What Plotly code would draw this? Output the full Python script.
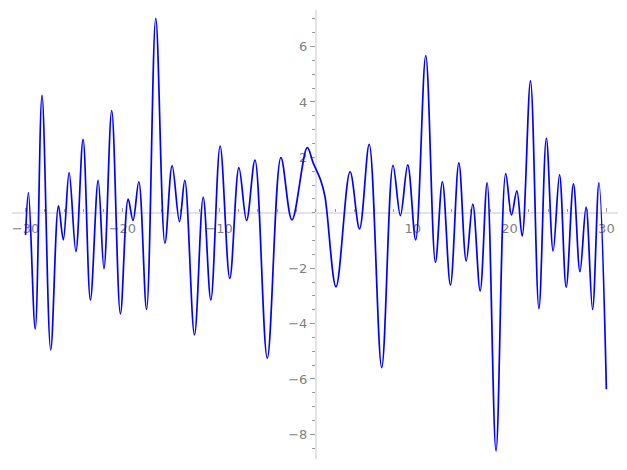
import plotly.graph_objects as go

# Curve samples (x, y of extrema and a few shoulder points)
x_vals = [-30.0, -29.7, -29.0, -28.3, -27.4, -26.6, -26.1, -25.5, -24.8, -24.06,
          -23.3, -22.5, -21.9, -21.1, -20.2, -19.4, -18.9, -18.3, -17.5, -16.55,
          -15.6, -14.86, -14.1, -13.55, -12.55, -11.65, -10.86, -9.9, -8.9, -7.96,
          -7.17, -6.3, -5.03, -3.62, -2.48, -0.9, -0.28, 0.48, 0.93, 2.07,
          3.52, 4.5, 5.5, 6.79, 7.96, 8.72, 9.48, 10.3, 11.34, 12.34,
          13.06, 13.89, 14.76, 15.52, 16.2, 16.96, 17.68, 18.6, 19.6, 20.2,
          20.75, 21.3, 22.16, 23.03, 23.8, 24.5, 25.16, 25.85, 26.6, 27.27,
          27.9, 28.57, 29.23, 30.0]
y_vals = [-0.8, 0.73, -4.2, 4.24, -4.95, 0.25, -0.98, 1.45, -1.4, 2.65,
          -3.15, 1.17, -2.02, 3.69, -3.65, 0.49, -0.28, 1.12, -3.49, 7.02,
          -1.1, 1.7, -0.32, 1.17, -4.41, 0.56, -3.15, 2.41, -2.37, 1.63,
          -0.28, 1.9, -5.25, 1.99, -0.26, 2.35, 1.79, 1.18, 0.58, -2.67,
          1.48, -0.58, 2.47, -5.59, 1.71, -0.1, 1.73, -0.98, 5.67, -1.79,
          1.12, -2.61, 1.8, -1.74, 0.31, -2.82, 1.08, -8.6, 1.41, -0.08,
          0.79, -0.84, 4.76, -3.46, 2.69, -1.38, 1.37, -2.69, 1.04, -2.13,
          0.2, -3.49, 1.08, -6.37]

x_tick_vals = [-30, -20, -10, 10, 20, 30]
x_tick_text = ["\u221230", "\u221220", "\u221210", "10", "20", "30"]
y_tick_vals = [-8, -6, -4, -2, 2, 4, 6]
y_tick_text = ["\u22128", "\u22126", "\u22124", "\u22122", "2", "4", "6"]

x_range = [-31.4, 31.2]
y_range = [-8.89, 7.32]

fig = go.Figure()
fig.add_trace(go.Scatter(
    x=x_vals, y=y_vals, mode="lines",
    line=dict(color="#0000ff", width=1.7, shape="spline", smoothing=1.0),
    hoverinfo="skip", showlegend=False,
))

xpos = (0 - y_range[0]) / (y_range[1] - y_range[0])
ypos = (0 - x_range[0]) / (x_range[1] - x_range[0])

axis_font = dict(family="DejaVu Sans", size=13, color="#808080")

fig.update_layout(
    width=627, height=470,
    margin=dict(l=4, r=17, t=2, b=19, autoexpand=False),
    plot_bgcolor="white", paper_bgcolor="white",
    xaxis=dict(
        range=x_range, anchor="free", position=xpos, automargin=False,
        showgrid=False, zeroline=False,
        showline=True, linecolor="#e3e3e3", linewidth=2,
        tickmode="array", tickvals=x_tick_vals, ticktext=x_tick_text,
        ticks="inside", ticklen=4, tickwidth=1, tickcolor="#999999",
        tickfont=axis_font, layer="below traces", ticklabelstandoff=4,
        minor=dict(tickmode="linear", tick0=0, dtick=2, ticks="inside",
                   ticklen=3, tickwidth=1, tickcolor="#999999"),
    ),
    yaxis=dict(
        range=y_range, anchor="free", position=ypos, automargin=False,
        showgrid=False, zeroline=False,
        showline=True, linecolor="#e3e3e3", linewidth=2,
        tickmode="array", tickvals=y_tick_vals, ticktext=y_tick_text,
        ticks="outside", ticklen=5, tickwidth=1, tickcolor="#999999",
        tickfont=axis_font, layer="below traces",
        minor=dict(tickmode="linear", tick0=0, dtick=0.5, ticks="outside",
                   ticklen=3, tickwidth=1, tickcolor="#999999"),
    ),
)

fig.write_html("out.html")
